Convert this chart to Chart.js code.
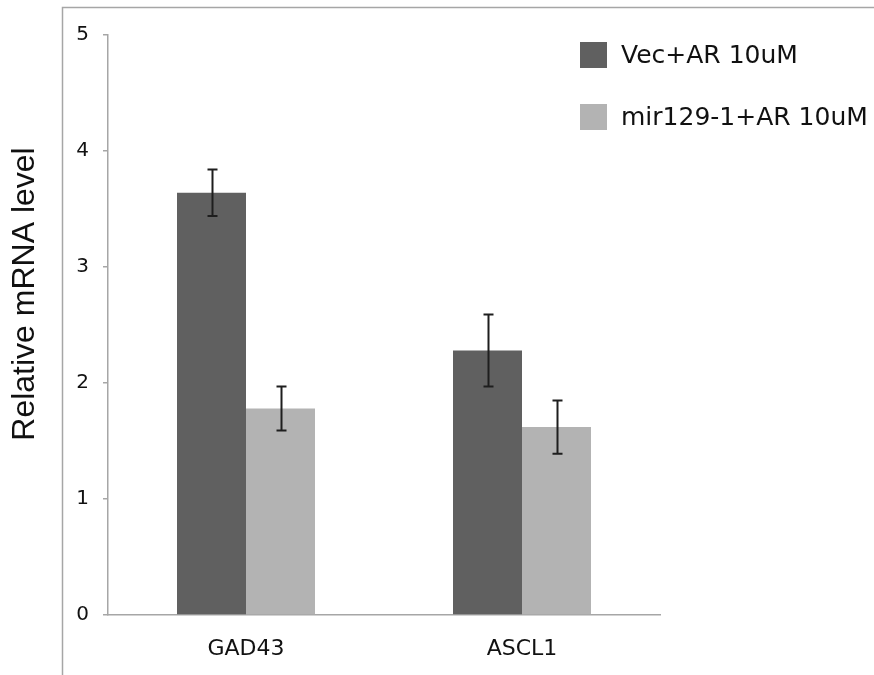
<!DOCTYPE html>
<html>
<head>
<meta charset="utf-8">
<script src="https://cdn.jsdelivr.net/npm/chart.js@4.4.1/dist/chart.umd.min.js"></script>
<style>
  html, body { margin: 0; padding: 0; background: #fff; }
  #wrap { width: 874px; height: 675px; position: relative; }
</style>
</head>
<body>
<div id="wrap"><canvas id="c" width="874" height="675"></canvas></div>
<script>
// Relative mRNA levels (mean ± error) per gene and treatment
const categories = ['GAD43', 'ASCL1'];
const seriesNames = ['Vec+AR 10uM', 'mir129-1+AR 10uM'];
const vecValues = [3.64, 2.28];
const vecErrors = [0.20, 0.31];
const mirValues = [1.78, 1.62];
const mirErrors = [0.19, 0.23];
const yTicks = [0, 1, 2, 3, 4, 5];
const yTitle = 'Relative mRNA level';

const DARK = '#606060';
const LIGHT = '#b3b3b3';
const AXIS = '#a6a6a6';

// Outer frame lines along the top and left edges
const framePlugin = {
  id: 'frame',
  beforeDraw(chart) {
    const ctx = chart.ctx;
    ctx.save();
    ctx.strokeStyle = AXIS;
    ctx.lineWidth = 1.5;
    ctx.beginPath();
    ctx.moveTo(62.5, 675);
    ctx.lineTo(62.5, 7.5);
    ctx.lineTo(874, 7.5);
    ctx.stroke();
    ctx.restore();
  }
};

// Vertical axis title, set slightly above the plot's middle
const yTitlePlugin = {
  id: 'yTitle',
  afterDraw(chart) {
    const ctx = chart.ctx;
    ctx.save();
    ctx.translate(34, 294);
    ctx.rotate(-Math.PI / 2);
    ctx.font = '32px "Liberation Sans"';
    ctx.fillStyle = '#111';
    ctx.textAlign = 'center';
    ctx.textBaseline = 'alphabetic';
    ctx.fillText(yTitle, 0, 0);
    ctx.restore();
  }
};

// Error whiskers with caps, placed on each bar element
const errorBarPlugin = {
  id: 'errorBars',
  afterDatasetsDraw(chart) {
    const ctx = chart.ctx;
    const y = chart.scales.y;
    ctx.save();
    ctx.strokeStyle = '#1e1e1e';
    ctx.lineWidth = 2;
    chart.data.datasets.forEach((ds, di) => {
      const meta = chart.getDatasetMeta(di);
      meta.data.forEach((bar, i) => {
        const v = ds.data[i];
        const e = ds.errors[i];
        const x = Math.round(bar.x) + 0.5;
        const yt = y.getPixelForValue(v + e);
        const yb = y.getPixelForValue(v - e);
        ctx.beginPath();
        ctx.moveTo(x, yt); ctx.lineTo(x, yb);
        ctx.moveTo(x - 5, yt); ctx.lineTo(x + 5, yt);
        ctx.moveTo(x - 5, yb); ctx.lineTo(x + 5, yb);
        ctx.stroke();
      });
    });
    ctx.restore();
  }
};

// Legend entries placed inside the plot, upper right
const legendPlugin = {
  id: 'insideLegend',
  afterDraw(chart) {
    const ctx = chart.ctx;
    ctx.save();
    ctx.font = '25px "DejaVu Sans"';
    ctx.textBaseline = 'middle';
    chart.data.datasets.forEach((ds, i) => {
      const cy = 55 + i * 62;
      ctx.fillStyle = ds.backgroundColor;
      ctx.fillRect(580, cy - 13, 27, 26);
      ctx.fillStyle = '#111';
      ctx.fillText(ds.label, 621, cy + 1);
    });
    ctx.restore();
  }
};

new Chart(document.getElementById('c'), {
  type: 'bar',
  data: {
    labels: categories,
    datasets: [
      { label: seriesNames[0], data: vecValues, errors: vecErrors, backgroundColor: DARK },
      { label: seriesNames[1], data: mirValues, errors: mirErrors, backgroundColor: LIGHT }
    ]
  },
  options: {
    responsive: false,
    animation: false,
    events: [],
    layout: { padding: { left: 0, right: 214, top: 35, bottom: 0 } },
    datasets: { bar: { categoryPercentage: 0.5, barPercentage: 1.0 } },
    plugins: { legend: { display: false }, tooltip: { enabled: false } },
    scales: {
      x: {
        grid: { display: true, drawOnChartArea: false, drawTicks: false },
        border: { display: true, color: AXIS, width: 1.5 },
        ticks: { color: '#111', font: { family: 'DejaVu Sans', size: 22 }, padding: 21 },
        afterFit(scale) { scale.height = 60; }
      },
      y: {
        min: 0,
        max: 5,
        afterBuildTicks(scale) { scale.ticks = yTicks.map(v => ({ value: v })); },
        grid: { display: true, drawOnChartArea: false, drawTicks: true, tickLength: 5, color: AXIS, lineWidth: 1.5 },
        border: { display: true, color: AXIS, width: 1.5 },
        ticks: { color: '#111', font: { family: 'DejaVu Sans', size: 20 }, padding: 14 },
        afterFit(scale) { scale.width = 108; }
      }
    }
  },
  plugins: [framePlugin, yTitlePlugin, errorBarPlugin, legendPlugin]
});
</script>
</body>
</html>
